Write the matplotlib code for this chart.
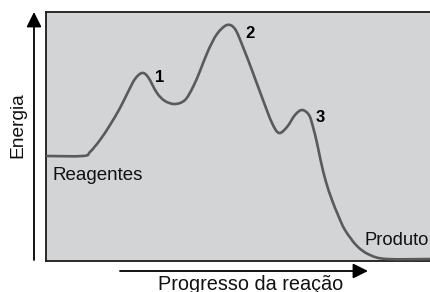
import matplotlib
matplotlib.use("Agg")
import matplotlib.pyplot as plt
from matplotlib.path import Path
from matplotlib.patches import PathPatch

plt.rcParams['font.family'] = ['Liberation Sans', 'DejaVu Sans']

# Curve: progress (px from left) and energy (px above box bottom at y=261)
progress = [46, 83, 90, 100, 110, 120, 128, 135, 142, 148, 157, 165, 175, 185, 193,
            200, 208, 217, 227, 235, 243, 253, 263, 272, 279, 287, 295, 302, 309,
            313, 317, 321, 326, 332, 338, 345, 357, 370, 387, 432]
pix_y = [156, 156, 152, 140, 125, 108, 92, 79, 73, 77, 93, 101, 104, 100, 87,
         71, 51, 34, 25, 29, 47, 73, 100, 123, 133, 127, 115, 110, 115,
         127, 143, 162, 182, 200, 215, 230, 246, 255, 259, 259]
energy = [261 - v for v in pix_y]

labels_peaks = ["1", "2", "3"]
reagent_label = "Reagentes"
product_label = "Produto"
xlabel = "Progresso da reação"
ylabel = "Energia"

W, H = 430, 292
fig = plt.figure(figsize=(W / 100, H / 100), dpi=100)
fig.patch.set_facecolor('white')

ov = fig.add_axes([0, 0, 1, 1])
ov.set_xlim(0, W)
ov.set_ylim(H, 0)
ov.axis('off')

left, top, bottom = 46, 12, 261
ax = fig.add_axes([left / W, (H - bottom) / H, (W + 4 - left) / W, (bottom - top) / H])
ax.set_facecolor('#d3d4d6')
ax.set_xlim(left, W + 4)
ax.set_ylim(0, bottom - top)
ax.set_xticks([])
ax.set_yticks([])
for s in ax.spines.values():
    s.set_color('#1a1a1a')
    s.set_linewidth(1.3)

# smooth rendering through the read points (Catmull-Rom as cubic Bezier segments)
pts = list(zip(progress, energy))
verts = [pts[0]]
codes = [Path.MOVETO]
t = 1 / 6
for i in range(len(pts) - 1):
    p0 = pts[i - 1] if i > 0 else pts[i]
    p1 = pts[i]
    p2 = pts[i + 1]
    p3 = pts[i + 2] if i + 2 < len(pts) else pts[i + 1]
    c1 = (p1[0] + (p2[0] - p0[0]) * t, p1[1] + (p2[1] - p0[1]) * t)
    c2 = (p2[0] - (p3[0] - p1[0]) * t, p2[1] - (p3[1] - p1[1]) * t)
    verts += [c1, c2, p2]
    codes += [Path.CURVE4] * 3
ax.add_patch(PathPatch(Path(verts, codes), facecolor='none', edgecolor='#5a5a5a',
                       lw=1.9, capstyle='round', joinstyle='round', zorder=3))

ov.annotate('', xy=(34, 12), xytext=(34, 260),
            arrowprops=dict(arrowstyle='-|>,head_length=0.9,head_width=0.45', color='black', lw=1.3, shrinkA=0, shrinkB=0))
ov.annotate('', xy=(368, 271), xytext=(120, 271),
            arrowprops=dict(arrowstyle='-|>,head_length=0.9,head_width=0.45', color='black', lw=1.3, shrinkA=0, shrinkB=0))
ov.set_zorder(5)

ov.text(18, 125, ylabel, rotation=90, ha='center', va='center', fontsize=13.8, color='#111')
ov.text(251, 290, xlabel, ha='center', va='baseline', fontsize=14.3, color='#111')
ov.text(52, 180, reagent_label, ha='left', va='baseline', fontsize=13.5, color='#111')
ov.text(364, 245, product_label, ha='left', va='baseline', fontsize=13.2, color='#111')
for lab, (px, py) in zip(labels_peaks, [(155, 82), (245, 38), (316, 122)]):
    ov.text(px, py, lab, ha='left', va='baseline', fontsize=12, fontweight='bold', color='black')

fig.savefig('out.png', dpi=100)
